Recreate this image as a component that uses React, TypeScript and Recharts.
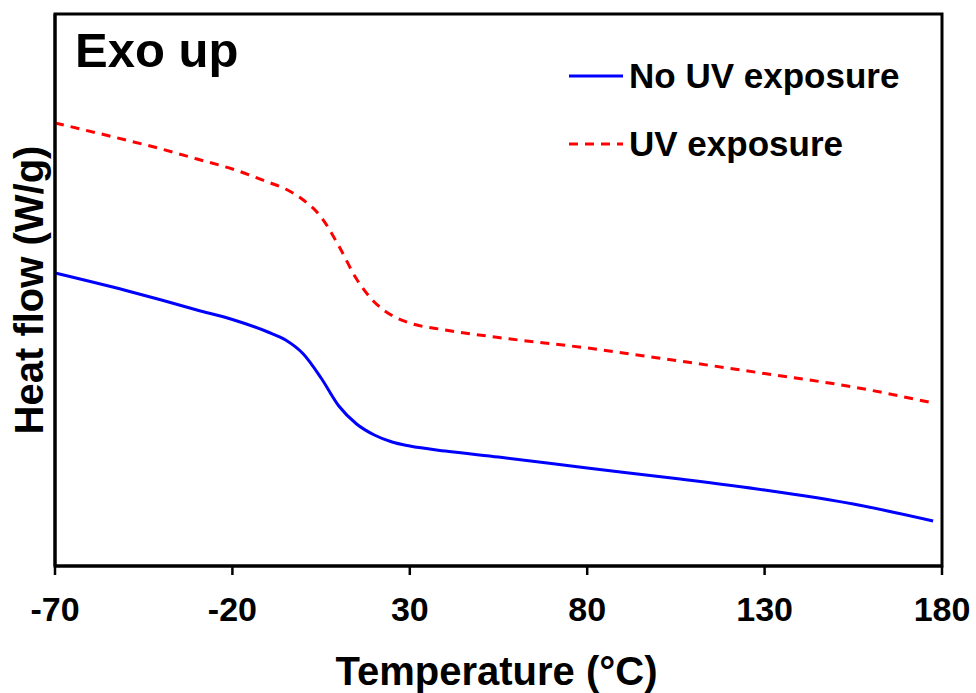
import React from "react";
import { LineChart, Line, XAxis, YAxis, Legend, ReferenceArea } from "recharts";

// temperature grid (°C) shared by both DSC scans
const temps = [-70, -50, -40, -30, -20, -10, -5, 0, 5, 10, 15, 20, 25, 30, 40, 55, 80, 105, 130, 155, 177.5];

// heat flow, arbitrary offset (W/g), exo up
const noUvFlow = [2.93, 2.755, 2.66, 2.56, 2.465, 2.34, 2.26, 2.12, 1.88, 1.6, 1.42, 1.31, 1.24, 1.2, 1.15, 1.09, 0.98, 0.875, 0.76, 0.62, 0.45];
const uvFlow = [4.43, 4.26, 4.17, 4.07, 3.97, 3.84, 3.77, 3.66, 3.49, 3.2, 2.87, 2.64, 2.505, 2.43, 2.36, 2.285, 2.18, 2.055, 1.925, 1.79, 1.63];

const xTicks = [-70, -20, 30, 80, 130, 180];
const xRange = [-70, 180];
const yRange = [0, 5.52];

const seriesInfo = [
  { key: "noUv", name: "No UV exposure", color: "#0000ff", dash: undefined as string | undefined },
  { key: "uv", name: "UV exposure", color: "#ff0000", dash: "9 7" },
];

const data = temps.map((t, i) => ({ t, noUv: noUvFlow[i], uv: uvFlow[i] }));

const FONT = "Arial, 'Liberation Sans', Helvetica, sans-serif";

const XTitle = (props: any) => {
  const { x, y, width } = props.viewBox;
  return (
    <text x={x + width / 2 - 2} y={y + 119} textAnchor="middle" fontFamily={FONT} fontWeight="bold" fontSize={40} fill="#000">
      Temperature (°C)
    </text>
  );
};

const YTitle = (props: any) => {
  const { y, height } = props.viewBox;
  const cx = 29;
  const cy = y + height / 2;
  return (
    <text
      x={cx}
      y={cy}
      transform={`rotate(-90 ${cx} ${cy})`}
      textAnchor="middle"
      dominantBaseline="central"
      fontFamily={FONT}
      fontWeight="bold"
      fontSize={40}
      fill="#000"
    >
      Heat flow (W/g)
    </text>
  );
};

const renderLegend = () => (
  <div style={{ fontFamily: FONT, fontWeight: "bold", fontSize: 35, color: "#000" }}>
    {seriesInfo.map((s) => (
      <div key={s.key} style={{ display: "flex", alignItems: "center", height: 68, whiteSpace: "nowrap" }}>
        <svg width={54} height={10} style={{ marginRight: 6 }}>
          <line x1={0} y1={5} x2={54} y2={5} stroke={s.color} strokeWidth={3} strokeDasharray={s.dash} />
        </svg>
        <span>{s.name}</span>
      </div>
    ))}
  </div>
);

export default function App() {
  return (
    <div style={{ position: "absolute", left: 0, top: 0, width: 976, height: 693, background: "#fff" }}>
      <LineChart width={976} height={693} data={data} margin={{ top: 14, right: 34, bottom: 0, left: 0 }}>
        <XAxis
          dataKey="t"
          type="number"
          domain={xRange}
          ticks={xTicks}
          height={127}
          stroke="#000"
          strokeWidth={3}
          tickSize={9}
          tickMargin={22}
          tickLine={{ stroke: "#000", strokeWidth: 2.5 }}
          tick={{ fill: "#000", fontSize: 34, fontWeight: "bold", fontFamily: FONT }}
          label={<XTitle />}
        />
        <YAxis type="number" domain={yRange} width={55} tick={false} tickLine={false} stroke="#000" strokeWidth={3} label={<YTitle />} />
        {/* plot frame (top and right edges) */}
        <ReferenceArea
          x1={xRange[0]}
          x2={xRange[1]}
          y1={yRange[0]}
          y2={yRange[1]}
          fill="none"
          fillOpacity={0}
          stroke="#000"
          strokeWidth={3}
          strokeOpacity={1}
        />
        <Legend
          content={renderLegend}
          layout="vertical"
          align="center"
          verticalAlign="middle"
          wrapperStyle={{ position: "absolute", left: 569, top: 42, width: 380 }}
        />
        {seriesInfo.map((s) => (
          <Line
            key={s.key}
            dataKey={s.key}
            name={s.name}
            type="monotone"
            stroke={s.color}
            strokeWidth={3}
            strokeDasharray={s.dash}
            dot={false}
            isAnimationActive={false}
          />
        ))}
      </LineChart>
      <div
        style={{
          position: "absolute",
          left: 75,
          top: 26,
          fontFamily: FONT,
          fontWeight: "bold",
          fontSize: 49,
          lineHeight: 1,
          color: "#000",
        }}
      >
        Exo up
      </div>
    </div>
  );
}
